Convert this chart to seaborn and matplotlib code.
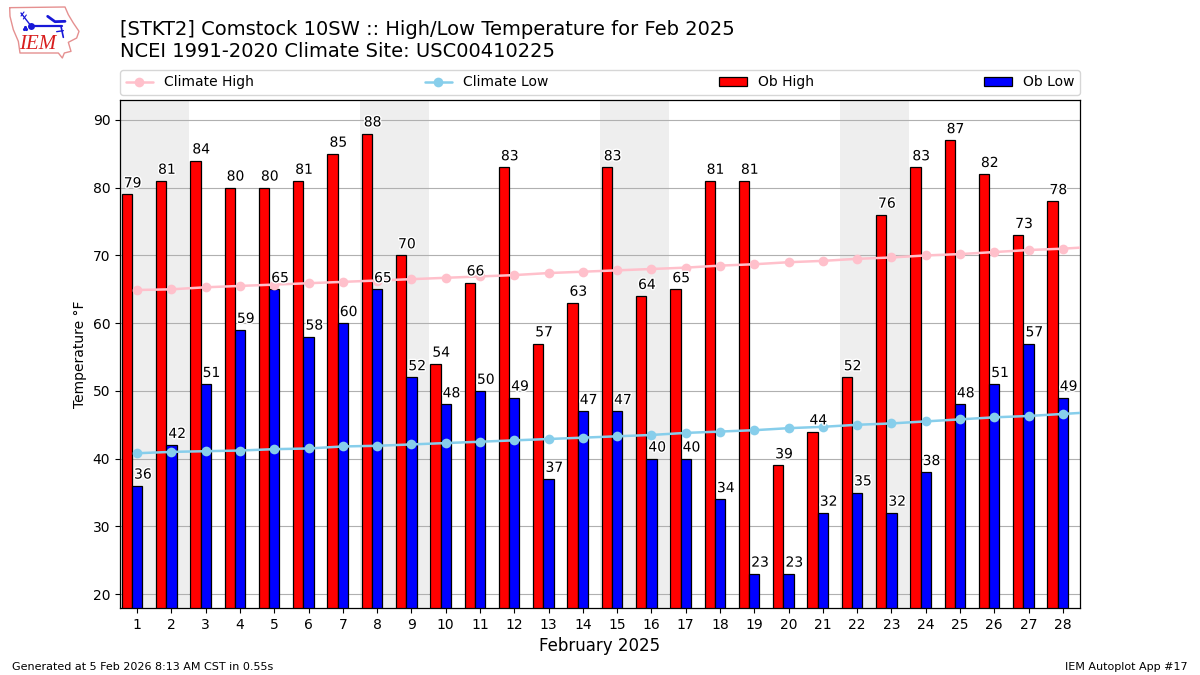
import matplotlib
matplotlib.use("Agg")
import matplotlib.pyplot as plt
import matplotlib.patheffects as pe
import pandas as pd
import seaborn as sns

days = list(range(1, 29))
ob_high = [79, 81, 84, 80, 80, 81, 85, 88, 70, 54, 66, 83, 57, 63,
           83, 64, 65, 81, 81, 39, 44, 52, 76, 83, 87, 82, 73, 78]
ob_low = [36, 42, 51, 59, 65, 58, 60, 65, 52, 48, 50, 49, 37, 47,
          47, 40, 40, 34, 23, 23, 32, 35, 32, 38, 48, 51, 57, 49]
# climatology also has a Feb 29 value, which runs off the right edge
climate_days = list(range(1, 30))
climate_high = [64.9, 65.0, 65.3, 65.5, 65.7, 65.9, 66.1, 66.3, 66.5, 66.7,
                66.9, 67.1, 67.4, 67.6, 67.8, 68.0, 68.2, 68.5, 68.7, 69.0,
                69.2, 69.5, 69.7, 70.0, 70.2, 70.5, 70.8, 71.0, 71.3]
climate_low = [40.8, 41.0, 41.1, 41.2, 41.4, 41.5, 41.8, 41.9, 42.1, 42.3,
               42.5, 42.7, 42.9, 43.1, 43.3, 43.5, 43.8, 44.0, 44.2, 44.5,
               44.7, 45.0, 45.2, 45.5, 45.8, 46.1, 46.3, 46.6, 46.9]
weekends = [(1, 2), (8, 9), (15, 16), (22, 23)]

sns.set_theme(style="white", rc={"axes.edgecolor": "black", "xtick.bottom": True,
                                 "ytick.left": True, "text.color": "black",
                                 "axes.labelcolor": "black", "xtick.color": "black",
                                 "ytick.color": "black"})
plt.rcParams["font.family"] = "DejaVu Sans"

fig = plt.figure(figsize=(12, 6.75), dpi=100)
ax = fig.add_axes([120 / 1200, 1 - 608 / 675, 960 / 1200, 508 / 675])

df = pd.DataFrame({"day": days, "high": ob_high, "low": ob_low})
clim = pd.DataFrame({"day": climate_days, "high": climate_high, "low": climate_low})

# weekend shading goes under everything
for start, end in weekends:
    ax.axvspan(start - 0.5, end + 0.5, color="#EEEEEE", lw=0, zorder=0)
ax.grid(True, axis="y", color="#B0B0B0", lw=0.8)
ax.set_axisbelow(True)

# bars sit left of and on the day tick
sns.barplot(x=df["day"] - 0.3, y=df["high"], native_scale=True, width=0.3,
            color="red", saturation=1, edgecolor="black", linewidth=0.9,
            label="Ob High", ax=ax, legend=False, zorder=2)
sns.barplot(x=df["day"], y=df["low"], native_scale=True, width=0.3,
            color="blue", saturation=1, edgecolor="black", linewidth=0.9,
            label="Ob Low", ax=ax, legend=False, zorder=2)

halo = [pe.withStroke(linewidth=2, foreground="white")]
for day, hi, lo in zip(days, ob_high, ob_low):
    ax.annotate(str(hi), (day - 0.45, hi), xytext=(1.5, 3), textcoords="offset points",
                ha="left", va="bottom", fontsize=10, path_effects=halo, zorder=5)
    ax.annotate(str(lo), (day - 0.15, lo), xytext=(1.5, 3), textcoords="offset points",
                ha="left", va="bottom", fontsize=10, path_effects=halo, zorder=5)

sns.lineplot(x=clim["day"], y=clim["high"], color="pink", marker="o", markersize=7,
             markeredgewidth=0, linewidth=1.8, label="Climate High", ax=ax, zorder=4)
sns.lineplot(x=clim["day"], y=clim["low"], color="skyblue", marker="o", markersize=7,
             markeredgewidth=0, linewidth=1.8, label="Climate Low", ax=ax, zorder=4)

ax.set_xlim(0.5, 28.5)
ax.set_ylim(17.95, 92.95)
ax.set_xticks(days)
ax.set_xticklabels([str(d) for d in days])
ax.set_yticks([20, 30, 40, 50, 60, 70, 80, 90])
ax.tick_params(labelsize=10, length=3.5, width=0.8, pad=3.5)
ax.set_xlabel("February 2025", fontsize=12)
ax.set_ylabel("Temperature °F", fontsize=10)
for spine in ax.spines.values():
    spine.set_linewidth(0.9)
    spine.set_color("black")

handles, labels = ax.get_legend_handles_labels()
order = ["Climate High", "Climate Low", "Ob High", "Ob Low"]
lookup = dict(zip(labels, handles))
ax.legend([lookup[k] for k in order], order, loc="lower left", ncol=4, mode="expand",
          bbox_to_anchor=(0, 1.01, 1, 0.05), borderaxespad=0, fontsize=10, frameon=True)

fig.text(120 / 1200, 1 - 35 / 675, "[STKT2] Comstock 10SW :: High/Low Temperature for Feb 2025",
         fontsize=14, va="baseline")
fig.text(120 / 1200, 1 - 57 / 675, "NCEI 1991-2020 Climate Site: USC00410225",
         fontsize=14, va="baseline")
fig.text(12 / 1200, 1 - 670 / 675, "Generated at 5 Feb 2026 8:13 AM CST in 0.55s",
         fontsize=8, va="baseline")
fig.text(1188 / 1200, 1 - 670 / 675, "IEM Autoplot App #17", fontsize=8, ha="right", va="baseline")

# rough redraw of the IEM logo, in 3x crop pixels
logo = fig.add_axes([0, 1 - 60 / 675, 80 / 1200, 60 / 675])
logo.set_xlim(0, 240)
logo.set_ylim(180, 0)
logo.axis("off")
logo.plot([29, 195, 205, 220, 237, 230, 205, 213, 193, 187, 175, 60, 55, 40, 30, 29],
          [23, 21, 44, 69, 94, 114, 127, 154, 159, 174, 159, 159, 124, 89, 49, 23],
          color="#E59090", lw=1)
blue = "#1818D8"
logo.plot([90, 187], [79, 79], color=blue, lw=1.6)
logo.plot([93], [79], "o", color=blue, ms=5, mew=0)
logo.plot([63, 90], [39, 74], color=blue, lw=1)
logo.plot([63, 72], [48, 36], color=blue, lw=0.8)
logo.plot([70, 79], [57, 45], color=blue, lw=0.8)
logo.plot([72, 75, 78], [88, 81, 88], ".", color=blue, ms=2.5)
logo.plot([143, 165, 195], [49, 65, 64], color=blue, lw=2)
logo.plot([183, 190], [79, 112], color=blue, lw=1.2)
logo.plot([170, 190], [95, 92], color=blue, lw=1)
logo.text(112, 134, "IEM", color="#D81E1E", fontsize=15, family="Liberation Serif", style="italic",
          ha="center", va="center")

fig.savefig("out.png", dpi=100)
